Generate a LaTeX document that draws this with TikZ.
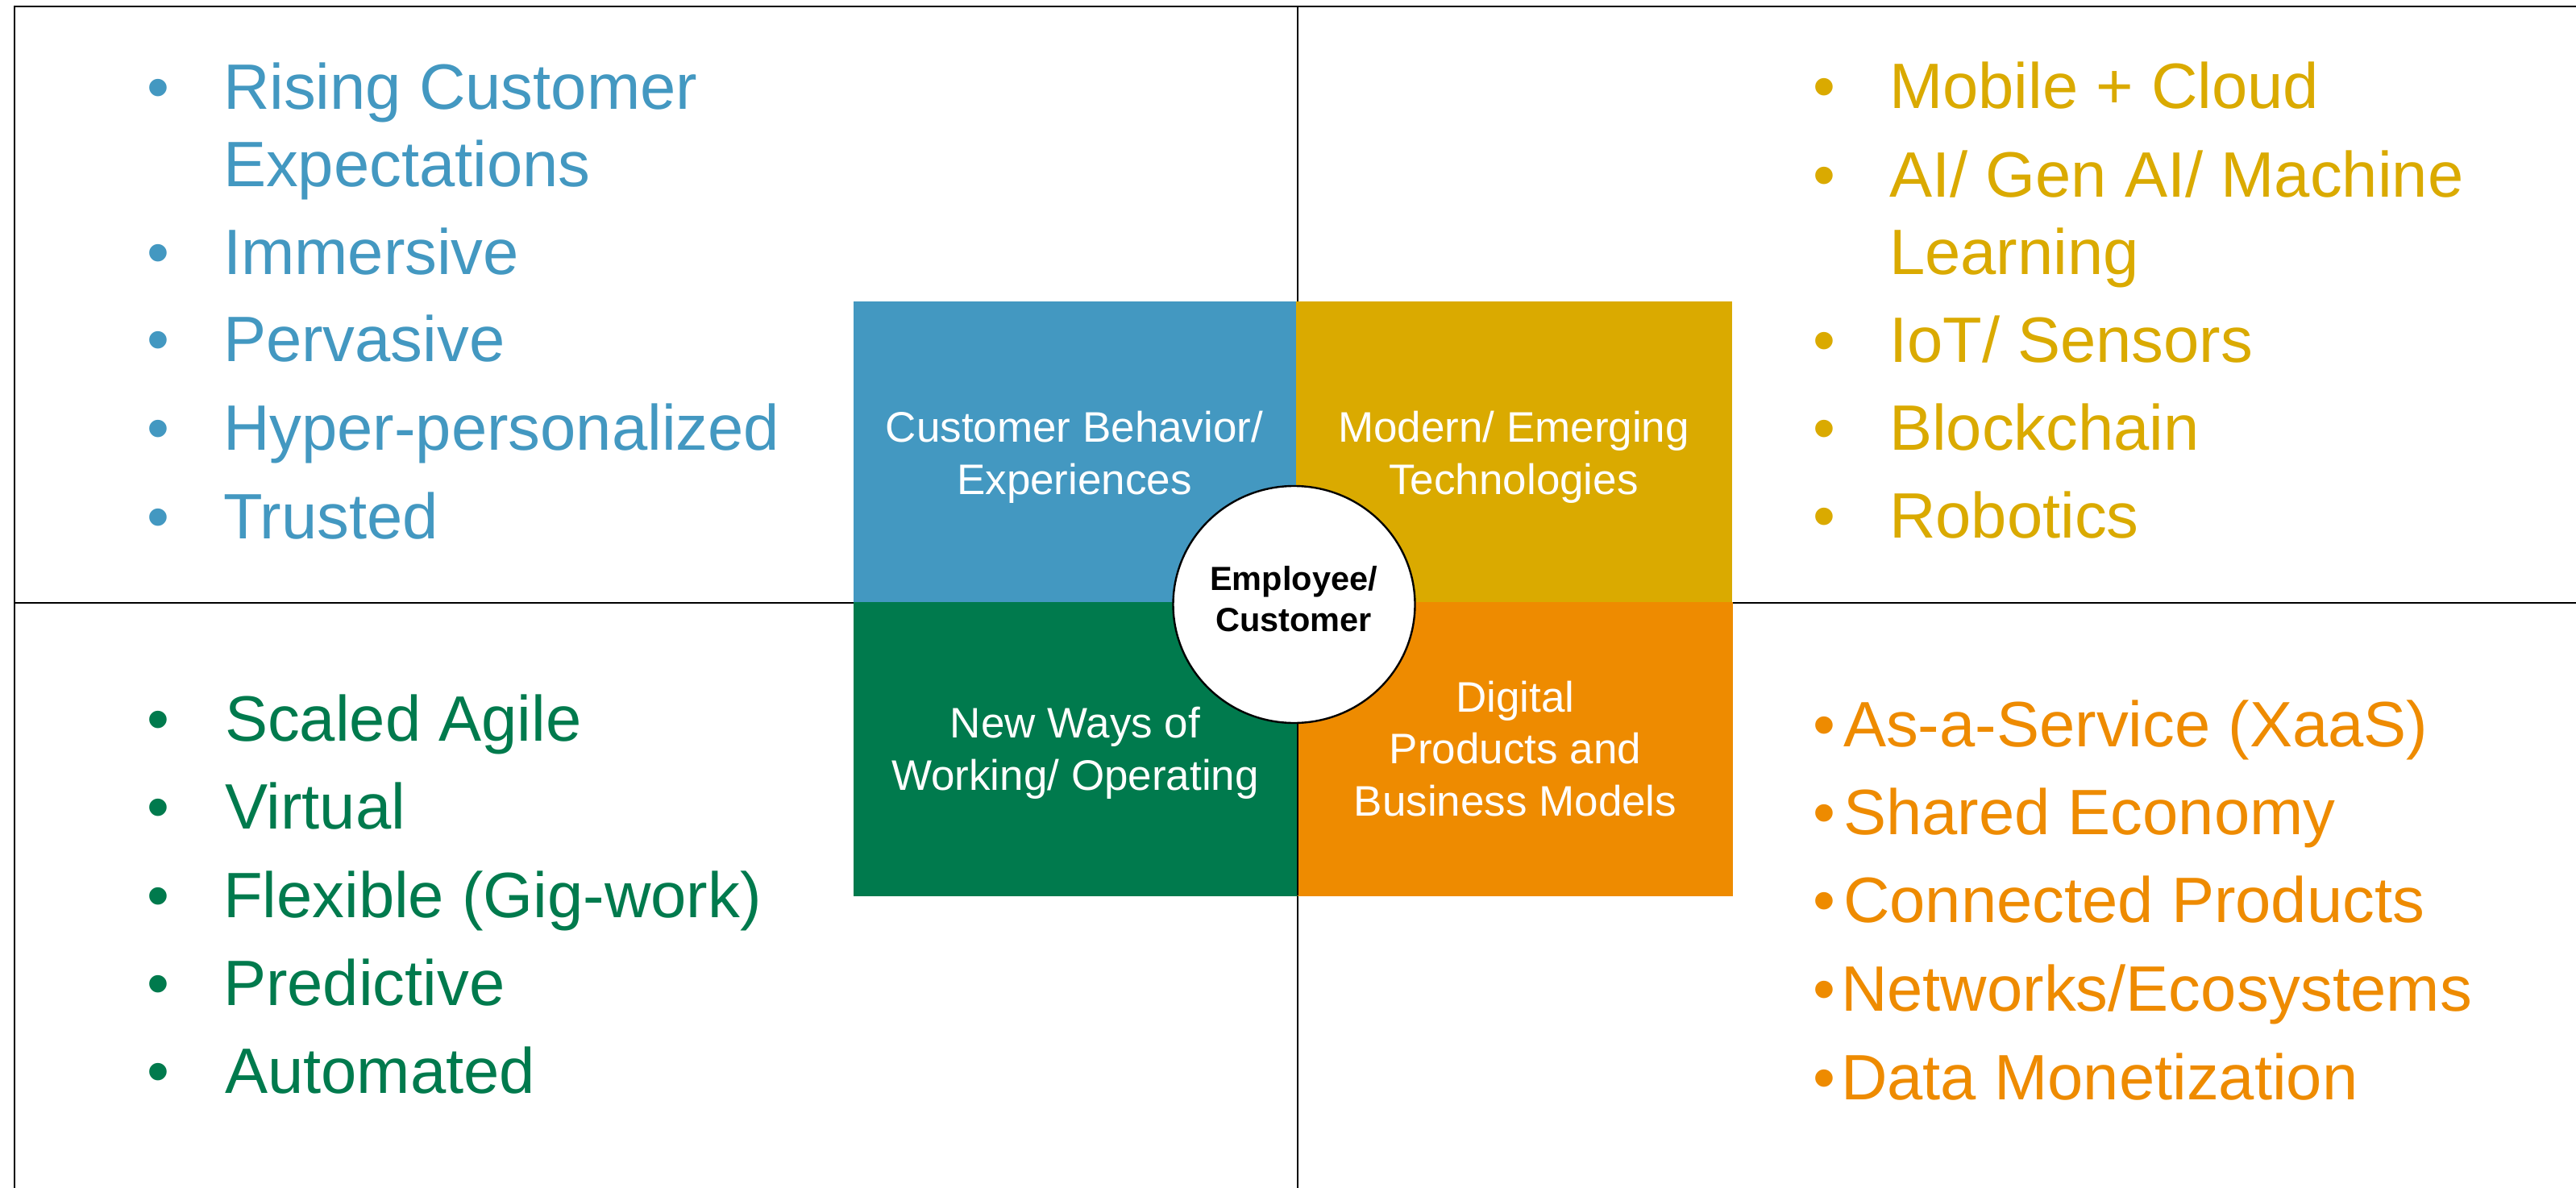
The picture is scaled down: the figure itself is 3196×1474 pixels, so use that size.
\documentclass[tikz,border=0pt]{standalone}
\usepackage{fontspec}
\setmainfont{Liberation Sans}
\usetikzlibrary{shapes.geometric}
\definecolor{cblue}{HTML}{4398C1}
\definecolor{cyellow}{HTML}{DAAA00}
\definecolor{cgreen}{HTML}{007A4D}
\definecolor{corange}{HTML}{EE8B00}
\tikzset{
  frame/.style={draw=black, line width=2.4pt},
  quad/.style={draw=none, inner sep=0pt, outer sep=0pt, rectangle},
  big/.style={inner sep=0pt, outer sep=0pt, anchor=base west, font=\fontsize{79.6}{95}\selectfont},
  bul/.style={inner sep=0pt, outer sep=0pt, anchor=base, font=\fontsize{79.6}{95}\selectfont},
  mid/.style={inner sep=0pt, outer sep=0pt, anchor=base, text=white, font=\fontsize{53}{64}\selectfont},
  hub/.style={inner sep=0pt, outer sep=0pt, anchor=base, text=black, font=\fontsize{41.5}{50}\selectfont\bfseries},
}
\begin{document}
\begin{tikzpicture}[x=1pt,y=-1pt]
\useasboundingbox (0,0) rectangle (3196,1474);
\fill[white] (0,0) rectangle (3196,1474);
% frame and quadrant lines
\coordinate (fbl) at (18,1474);
\coordinate (ftl) at (18,8);
\coordinate (ftr) at (3196,8);
\coordinate (hl) at (18,748);
\coordinate (hr) at (3196,748);
\coordinate (vt) at (1610,8);
\coordinate (vb) at (1610,1474);
\draw[frame] (fbl) -- (ftl) -- (ftr);
\draw[frame] (hl) -- (hr);
\draw[frame] (vt) -- (vb);
% center boxes
\node[quad, fill=cblue, minimum width=549pt, minimum height=373pt] (qb) at (1333.5,560.5) {};
\node[quad, fill=cyellow, minimum width=541pt, minimum height=373pt] (qy) at (1878.5,560.5) {};
\node[quad, fill=cgreen, minimum width=551pt, minimum height=365pt] (qg) at (1334.5,929.5) {};
\node[quad, fill=corange, minimum width=540pt, minimum height=365pt] (qo) at (1880,929) {};
\coordinate (sepb) at (1610,1111);
\draw[black, line width=1.5pt] (qo.north west) -- (sepb);
% hub circle
\node[ellipse, draw=black, fill=white, line width=2.4pt, minimum width=300pt, minimum height=294pt, inner sep=0pt] (hub) at (1605.5,750) {};
\node[hub] (hub1) at (1605,732.7) {Employee/};
\node[hub] (hub2) at (1605,783.7) {Customer};
% box labels
\node[mid] (qb1) at (1333,548) {Customer Behavior/};
\node[mid] (qb2) at (1333,613) {Experiences};
\node[mid] (qy1) at (1878,548) {Modern/ Emerging};
\node[mid] (qy2) at (1878,613) {Technologies};
\node[mid] (qg1) at (1334,915) {New Ways of};
\node[mid] (qg2) at (1334,980) {Working/ Operating};
\node[mid] (qo1) at (1880,883) {Digital};
\node[mid] (qo2) at (1880,947) {Products and};
\node[mid] (qo3) at (1880,1012) {Business Models};
% top-left list
\begin{scope}[every node/.append style={text=cblue}]
\node[bul] (tlb1) at (196,135.4) {\textbullet};
\node[big] (tl1) at (277,135.4) {Rising Customer};
\node[big] (tl1b) at (277,231.1) {Expectations};
\node[bul] (tlb2) at (196,340.7) {\textbullet};
\node[big] (tl2) at (277,340.7) {Immersive};
\node[bul] (tlb3) at (196,448.8) {\textbullet};
\node[big] (tl3) at (277,448.8) {Pervasive};
\node[bul] (tlb4) at (196,558.9) {\textbullet};
\node[big] (tl4) at (277,558.9) {Hyper-personalized};
\node[bul] (tlb5) at (196,668) {\textbullet};
\node[big] (tl5) at (277,668) {Trusted};
\end{scope}
% top-right list
\begin{scope}[every node/.append style={text=cyellow}]
\node[bul] (trb1) at (2263,134.4) {\textbullet};
\node[big] (tr1) at (2344,134.4) {Mobile + Cloud};
\node[bul] (trb2) at (2263,244) {\textbullet};
\node[big] (tr2) at (2344,244) {AI/ Gen AI/ Machine};
\node[big] (tr2b) at (2344,340) {Learning};
\node[bul] (trb3) at (2263,449.6) {\textbullet};
\node[big] (tr3) at (2344,449.6) {IoT/ Sensors};
\node[bul] (trb4) at (2263,558.7) {\textbullet};
\node[big] (tr4) at (2344,558.7) {Blockchain};
\node[bul] (trb5) at (2263,667.7) {\textbullet};
\node[big] (tr5) at (2344,667.7) {Robotics};
\end{scope}
% bottom-left list
\begin{scope}[every node/.append style={text=cgreen}]
\node[bul] (blb1) at (196,919.3) {\textbullet};
\node[big] (bl1) at (279,919.3) {Scaled Agile};
\node[bul] (blb2) at (196,1028.8) {\textbullet};
\node[big] (bl2) at (279,1028.8) {Virtual};
\node[bul] (blb3) at (196,1138.4) {\textbullet};
\node[big] (bl3) at (277,1138.4) {Flexible (Gig-work)};
\node[bul] (blb4) at (196,1247) {\textbullet};
\node[big] (bl4) at (277,1247) {Predictive};
\node[bul] (blb5) at (196,1356.5) {\textbullet};
\node[big] (bl5) at (279,1356.5) {Automated};
\end{scope}
% bottom-right list
\begin{scope}[every node/.append style={text=corange}]
\node[bul] (brb1) at (2263,926) {\textbullet};
\node[big] (br1) at (2287,926) {As-a-Service (XaaS)};
\node[bul] (brb2) at (2263,1035.4) {\textbullet};
\node[big] (br2) at (2287,1035.4) {Shared Economy};
\node[bul] (brb3) at (2263,1144.8) {\textbullet};
\node[big] (br3) at (2287,1144.8) {Connected Products};
\node[bul] (brb4) at (2263,1254.2) {\textbullet};
\node[big] (br4) at (2284,1254.2) {Networks/Ecosystems};
\node[bul] (brb5) at (2263,1364.1) {\textbullet};
\node[big] (br5) at (2284,1364.1) {Data Monetization};
\end{scope}
\end{tikzpicture}
\end{document}
